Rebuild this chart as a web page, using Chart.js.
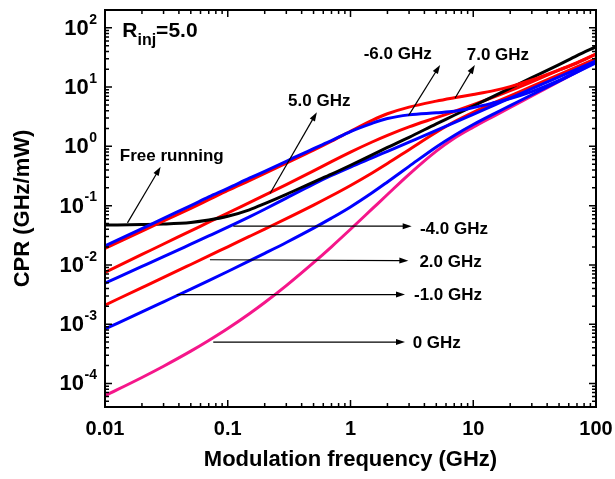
<!DOCTYPE html>
<html>
<head>
<meta charset="utf-8">
<script src="https://cdn.jsdelivr.net/npm/chart.js@4.4.0/dist/chart.umd.min.js"></script>
<style>
  body { margin: 0; background: #fff; }
  #cpr { display: block; }
</style>
</head>
<body>
<canvas id="cpr" width="615" height="479"></canvas>
<script>
// modulation frequency grid (GHz)
var freq = [0.01,0.02,0.03,0.05,0.07,0.1,0.15,0.2,0.3,0.5,0.7,1,1.5,2,3,5,7,10,15,20,30,50,70,100];

// CPR (GHz/mW), one list per curve
var detM6  = [0.021,0.041,0.061,0.10,0.14,0.195,0.29,0.38,0.56,0.92,1.25,1.78,2.45,2.95,3.4,3.68,3.9,4.5,5.5,6.4,8.4,13,18.3,26.5];
var detP7  = [0.019,0.037,0.055,0.09,0.126,0.18,0.265,0.35,0.52,0.86,1.22,1.8,2.75,3.55,4.6,5.8,6.6,7.5,8.8,10.2,13.2,19.5,25.5,36];
var freeRun = [0.047,0.048,0.049,0.052,0.057,0.066,0.085,0.108,0.155,0.25,0.34,0.48,0.72,0.96,1.42,2.4,3.35,4.8,7.2,9.6,14.4,24,34,48];
var detP5  = [0.0075,0.015,0.0225,0.0375,0.0525,0.075,0.1125,0.15,0.226,0.386,0.553,0.80,1.185,1.534,2.128,3.05,3.87,5.04,6.89,8.7,12.3,19.3,26.0,35.9];
var detM4  = [0.0049,0.0094,0.01377,0.02234,0.03074,0.04326,0.0645,0.0868,0.134,0.2303,0.3224,0.448,0.64,0.825,1.18,1.855,2.51,3.47,5.01,6.51,9.39,14.9,20.2,27.8];
var detP2  = [0.0021,0.00413,0.00614,0.01016,0.01417,0.0202,0.0302,0.0402,0.0603,0.102,0.1466,0.219,0.356,0.513,0.88,1.73,2.6,3.76,5.5,7.12,10.3,16.3,22.0,30.3];
var detM1  = [0.00083,0.00161,0.00238,0.0039,0.00542,0.00774,0.01166,0.01567,0.0239,0.0417,0.0615,0.0951,0.165,0.251,0.46,0.98,1.53,2.34,3.61,4.87,7.43,12.6,17.8,25.6];
var det0   = [6.2e-5,1.26e-4,1.95e-4,3.5e-4,5.3e-4,8.45e-4,1.5e-3,2.32e-3,4.47e-3,0.0109,0.0202,0.0399,0.0879,0.154,0.337,0.83,1.37,2.11,3.31,4.55,7.11,12.5,18.1,26.8];

var seriesNames = ['-6.0 GHz','7.0 GHz','Free running','5.0 GHz','-4.0 GHz','2.0 GHz','-1.0 GHz','0 GHz'];
var seriesValues = [detM6, detP7, freeRun, detP5, detM4, detP2, detM1, det0];
var seriesColors = ['#0000ff','#ff0000','#000000','#ff0000','#0000ff','#ff0000','#0000ff','#f5168a'];

var xTicks = [0.01, 0.1, 1, 10, 100];
var xTickLabels = ['0.01','0.1','1','10','100'];
var yPowers = [-4,-3,-2,-1,0,1,2];

// annotations, in data coordinates
var noteText = ['Free running','5.0 GHz','-6.0 GHz','7.0 GHz','-4.0 GHz','2.0 GHz','-1.0 GHz','0 GHz'];
var noteX = [0.0132,0.31,1.28,8.85,3.68,3.64,3.29,3.21];
var noteY = [0.667,5.67,36,35,0.04,0.0112,0.00307,4.74e-4];
var arrowFrom = [[0.01524,0.0512],[0.221,0.1606],[2.97,3.3],[7.1,6.5],[0.111,0.045],[0.0716,0.0122],[0.0384,0.00315],[0.0762,4.99e-4]];
var arrowTo   = [[0.0284,0.452],[0.532,3.78],[5.37,23.7],[10.3,23.7],[3.15,0.045],[2.96,0.0118],[2.78,0.00315],[2.78,4.99e-4]];

var FONT = '"Liberation Sans", Arial, sans-serif';

var datasets = seriesValues.map(function (vals, i) {
  return {
    label: seriesNames[i],
    data: freq.map(function (f, j) { return { x: f, y: vals[j] }; }),
    borderColor: seriesColors[i],
    borderWidth: 3,
    pointRadius: 0,
    fill: false,
    cubicInterpolationMode: 'monotone'
  };
});

function drawArrow(ctx, x1, y1, x2, y2) {
  var a = Math.atan2(y2 - y1, x2 - x1), len = 9, w = 3;
  ctx.beginPath();
  ctx.moveTo(x1, y1);
  ctx.lineTo(x2 - Math.cos(a) * len * 0.8, y2 - Math.sin(a) * len * 0.8);
  ctx.stroke();
  ctx.beginPath();
  ctx.moveTo(x2, y2);
  ctx.lineTo(x2 - Math.cos(a) * len + Math.sin(a) * w, y2 - Math.sin(a) * len - Math.cos(a) * w);
  ctx.lineTo(x2 - Math.cos(a) * len - Math.sin(a) * w, y2 - Math.sin(a) * len + Math.cos(a) * w);
  ctx.closePath();
  ctx.fill();
}

var decorations = {
  id: 'decorations',
  afterDatasetsDraw: function (chart) {
    var ctx = chart.ctx, sx = chart.scales.x, sy = chart.scales.y;
    ctx.save();
    ctx.strokeStyle = '#000';
    ctx.fillStyle = '#000';
    ctx.lineWidth = 1.2;
    for (var i = 0; i < arrowFrom.length; i++) {
      drawArrow(ctx,
        sx.getPixelForValue(arrowFrom[i][0]), sy.getPixelForValue(arrowFrom[i][1]),
        sx.getPixelForValue(arrowTo[i][0]), sy.getPixelForValue(arrowTo[i][1]));
    }
    ctx.restore();
  },
  afterDraw: function (chart) {
    var ctx = chart.ctx, a = chart.chartArea, sx = chart.scales.x, sy = chart.scales.y;
    ctx.save();
    ctx.strokeStyle = '#000';
    ctx.fillStyle = '#000';

    // frame
    ctx.lineWidth = 2;
    ctx.strokeRect(a.left, a.top, a.right - a.left, a.bottom - a.top);

    // inward ticks on all four sides
    ctx.lineWidth = 1.5;
    ctx.beginPath();
    for (var d = -2; d <= 2; d++) {
      for (var k = 1; k <= 9; k++) {
        var v = k * Math.pow(10, d);
        if (v > 100.0001) break;
        var px = sx.getPixelForValue(v), L = k === 1 ? 7 : 4;
        ctx.moveTo(px, a.bottom); ctx.lineTo(px, a.bottom - L);
        ctx.moveTo(px, a.top); ctx.lineTo(px, a.top + L);
      }
    }
    for (var p = -5; p <= 2; p++) {
      for (var m = 1; m <= 9; m++) {
        var yv = m * Math.pow(10, p);
        if (yv < 4e-5 || yv > 200) continue;
        var py = sy.getPixelForValue(yv), Ly = m === 1 ? 7 : 4;
        ctx.moveTo(a.left, py); ctx.lineTo(a.left + Ly, py);
        ctx.moveTo(a.right, py); ctx.lineTo(a.right - Ly, py);
      }
    }
    ctx.stroke();

    // y tick labels with superscript exponents
    ctx.textAlign = 'right';
    ctx.textBaseline = 'middle';
    yPowers.forEach(function (pw) {
      var y = sy.getPixelForValue(Math.pow(10, pw));
      var ex = String(pw);
      ctx.font = 'bold 14px ' + FONT;
      var ew = ctx.measureText(ex).width;
      ctx.fillText(ex, 97, y - 8);
      ctx.font = 'bold 22px ' + FONT;
      ctx.fillText('10', 97 - ew - 0.5, y + 1);
    });

    // curve labels
    ctx.textAlign = 'left';
    ctx.font = 'bold 17px ' + FONT;
    for (var i = 0; i < noteText.length; i++) {
      ctx.fillText(noteText[i], sx.getPixelForValue(noteX[i]), sy.getPixelForValue(noteY[i]));
    }

    // R_inj=5.0
    var rx = sx.getPixelForValue(0.01383), ry = sy.getPixelForValue(71.2);
    ctx.textBaseline = 'alphabetic';
    ctx.font = 'bold 21px ' + FONT;
    ctx.fillText('R', rx, ry);
    rx += ctx.measureText('R').width;
    ctx.font = 'bold 16px ' + FONT;
    ctx.fillText('inj', rx, ry + 8);
    rx += ctx.measureText('inj').width;
    ctx.font = 'bold 21px ' + FONT;
    ctx.fillText('=5.0', rx, ry);
    ctx.restore();
  }
};

new Chart(document.getElementById('cpr'), {
  type: 'line',
  data: { datasets: datasets },
  options: {
    responsive: false,
    animation: false,
    layout: { padding: { top: 10, right: 19, left: 0, bottom: 0 } },
    plugins: { legend: { display: false }, tooltip: { enabled: false } },
    scales: {
      x: {
        type: 'logarithmic',
        min: 0.01,
        max: 100,
        grid: { display: false, drawTicks: false },
        border: { display: false },
        afterBuildTicks: function (s) { s.ticks = xTicks.map(function (v) { return { value: v }; }); },
        afterFit: function (s) { s.height = 72; s.paddingLeft = 0; s.paddingRight = 0; },
        ticks: {
          autoSkip: false,
          maxRotation: 0,
          padding: 10,
          color: '#000',
          font: { family: FONT, size: 20, weight: 'bold' },
          callback: function (v, i) { return xTickLabels[i]; }
        },
        title: {
          display: true,
          text: 'Modulation frequency (GHz)',
          color: '#000',
          font: { family: FONT, size: 22, weight: 'bold' },
          padding: { top: 0, bottom: 6 }
        }
      },
      y: {
        type: 'logarithmic',
        min: 4e-5,
        max: 200,
        grid: { display: false, drawTicks: false },
        border: { display: false },
        afterFit: function (s) { s.width = 105; },
        ticks: { display: false },
        title: {
          display: true,
          text: 'CPR (GHz/mW)',
          color: '#000',
          font: { family: FONT, size: 22, weight: 'bold' },
          padding: { top: 10, bottom: 0 }
        }
      }
    }
  },
  plugins: [decorations]
});
</script>
</body>
</html>
